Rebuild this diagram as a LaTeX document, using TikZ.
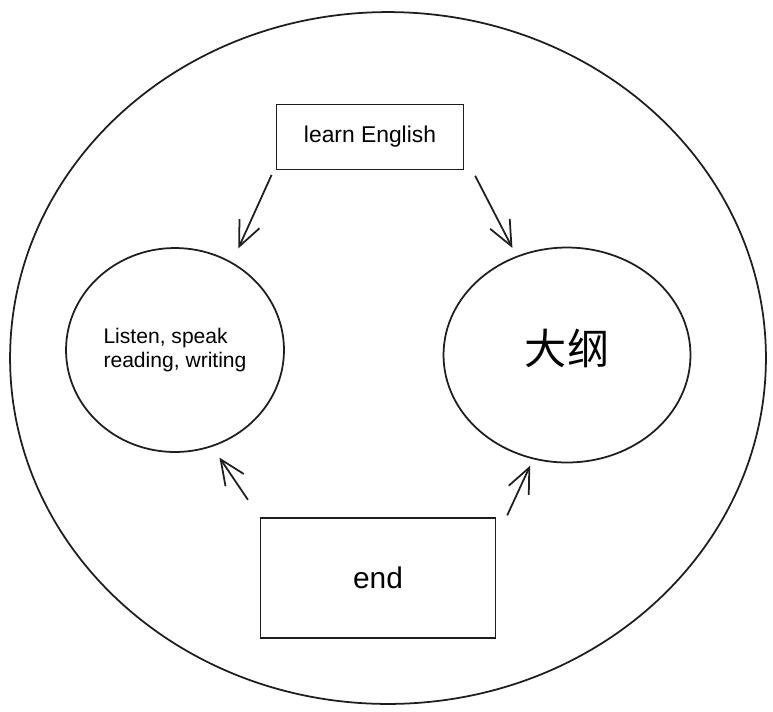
\documentclass[tikz,border=0pt]{standalone}
\usepackage{fontspec}
\setmainfont{Liberation Sans}
\newfontfamily\cjk{Noto Sans CJK SC}
\usetikzlibrary{arrows.meta, shapes.geometric}
\definecolor{Ink}{HTML}{1E1E1E}
\tikzset{
  tbox/.style={draw=Ink, line width=1pt, rectangle, align=center, inner sep=0pt},
  rnd/.style={draw=Ink, line width=1pt, ellipse, align=center, inner sep=0pt},
  flow/.style={-{Straight Barb[length=5mm, width=4.4mm]}, line width=1pt, draw=Ink},
}
\begin{document}
\begin{tikzpicture}[x=0.02cm, y=-0.02cm]
    \useasboundingbox (0,0) rectangle (773,711);
    \node[rnd, minimum width=15.12cm, minimum height=13.84cm] (world) at (388,358) {};
    \node[tbox, minimum width=3.74cm, minimum height=1.3cm,
      font=\fontsize{13}{16}\selectfont] (learn) at (370,137) {learn English};
    \node[rnd, minimum width=4.36cm, minimum height=4.08cm, align=left,
      font=\fontsize{12}{14}\selectfont] (listen) at (175,350) {Listen, speak\\reading, writing};
    \node[rnd, minimum width=4.94cm, minimum height=4.3cm, text depth=0.35cm,
      font=\cjk\fontsize{24}{28}\selectfont] (dagang) at (567,355) {大纲};
    \node[tbox, minimum width=4.7cm, minimum height=2.4cm,
      font=\fontsize{17}{20}\selectfont] (endbox) at (378,578) {end};
    \draw[flow, shorten <=0.1cm, shorten >=0.3cm] ([xshift=-0.04cm]learn.south west) -- (listen.57);
    \draw[flow, shorten <=0.12cm, shorten >=0.18cm] ([xshift=0.16cm]learn.south east) -- (dagang.117);
    \draw[flow, shorten <=0.42cm, shorten >=0.26cm] (endbox.north west) -- (listen.-69);
    \draw[flow, shorten <=0.04cm, shorten >=0.14cm] ([xshift=0.2cm]endbox.north east) -- (dagang.-108);
  \end{tikzpicture}
\end{document}
